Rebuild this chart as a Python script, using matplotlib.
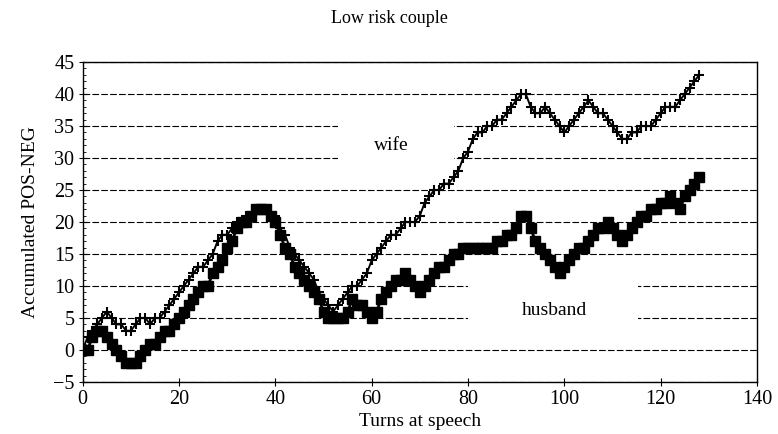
import numpy as np
import matplotlib
matplotlib.use("Agg")
import matplotlib.pyplot as plt
from matplotlib.patches import Rectangle

plt.rcParams['font.family'] = ['Liberation Serif', 'DejaVu Serif']

# accumulated POS-NEG per turn
wife = [0, 2, 3, 4, 5, 6, 5, 4, 4, 3, 3, 4, 5, 5, 4, 5, 5, 6, 7, 8,
        9, 10, 11, 12, 13, 13, 14, 15, 17, 18, 18, 19, 20, 20, 21, 21, 22, 22, 22, 21,
        21, 19, 18, 16, 15, 14, 13, 12, 11, 9, 8, 7, 6, 7, 8, 9, 10, 10, 11, 12,
        14, 15, 16, 17, 18, 18, 19, 20, 20, 20, 21, 23, 24, 25, 25, 26, 26, 27, 28, 30,
        31, 33, 34, 34, 35, 35, 36, 36, 37, 38, 39, 40, 40, 38, 37, 37, 38, 37, 36, 35,
        34, 35, 36, 37, 38, 39, 38, 37, 37, 36, 35, 34, 33, 33, 34, 34, 35, 35, 35, 36,
        37, 38, 38, 38, 39, 40, 41, 42, 43]
husband = [0, 0, 2, 3, 3, 2, 1, 0, -1, -2, -2, -2, -1, 0, 1, 1, 2, 3, 3, 4,
           5, 6, 7, 8, 9, 10, 10, 12, 13, 14, 16, 17, 19, 20, 20, 21, 22, 22, 22, 21,
           20, 18, 16, 15, 13, 12, 11, 10, 9, 8, 6, 5, 5, 5, 5, 6, 8, 7, 7, 6,
           5, 6, 8, 9, 10, 11, 11, 12, 11, 10, 9, 10, 11, 12, 13, 13, 14, 15, 15, 16,
           16, 16, 16, 16, 16, 16, 17, 17, 18, 18, 19, 21, 21, 19, 17, 16, 15, 14, 13, 12,
           13, 14, 15, 16, 16, 17, 18, 19, 19, 20, 19, 18, 17, 18, 19, 20, 21, 21, 22, 22,
           23, 23, 24, 23, 22, 24, 25, 26, 27]
turns = np.arange(len(wife))

fig = plt.figure(figsize=(7.78, 4.34), dpi=100)
ax = fig.add_axes([0.1063, 0.12, 0.8667, 0.737])

for yv in range(-5, 50, 5):
    ax.axhline(yv, color='black', lw=0.8, ls=(0, (6, 2)), zorder=1)

# white boxes behind the labels (gridlines are broken there)
ax.add_patch(Rectangle((53, 27), 24, 10.5, facecolor='white', edgecolor='none', zorder=2))
ax.add_patch(Rectangle((80, 2.5), 35.3, 9.3, facecolor='white', edgecolor='none', zorder=2))

ax.plot(turns, husband, color='black', lw=2, marker='s', ms=7, mec='black', mfc='black', zorder=3)
ax.plot(turns, wife, color='black', lw=1.4, marker='+', ms=7, mew=1.5, zorder=4)

ax.text(64, 32, 'wife', fontsize=14, ha='center', va='center', zorder=5)
ax.text(98, 6.2, 'husband', fontsize=14, ha='center', va='center', zorder=5)

ax.set_xlim(0, 140)
ax.set_ylim(-5, 45)
ax.set_xticks(range(0, 141, 20))
ax.set_yticks(range(-5, 46, 5))
ax.tick_params(labelsize=14.5, direction='inout', length=6, width=0.8, pad=3)
ax.yaxis.set_minor_locator(plt.MultipleLocator(1))
ax.tick_params(which='minor', direction='in', length=2, width=0.6)
for s in ax.spines.values():
    s.set_linewidth(1.0)

ax.set_xlabel('Turns at speech', fontsize=14, labelpad=3)
ax.set_ylabel('Accumulated POS-NEG', fontsize=14, labelpad=10)
fig.text(0.5, 0.958, 'Low risk couple', fontsize=13, ha='center', va='center')

fig.savefig('out.png', dpi=100)
